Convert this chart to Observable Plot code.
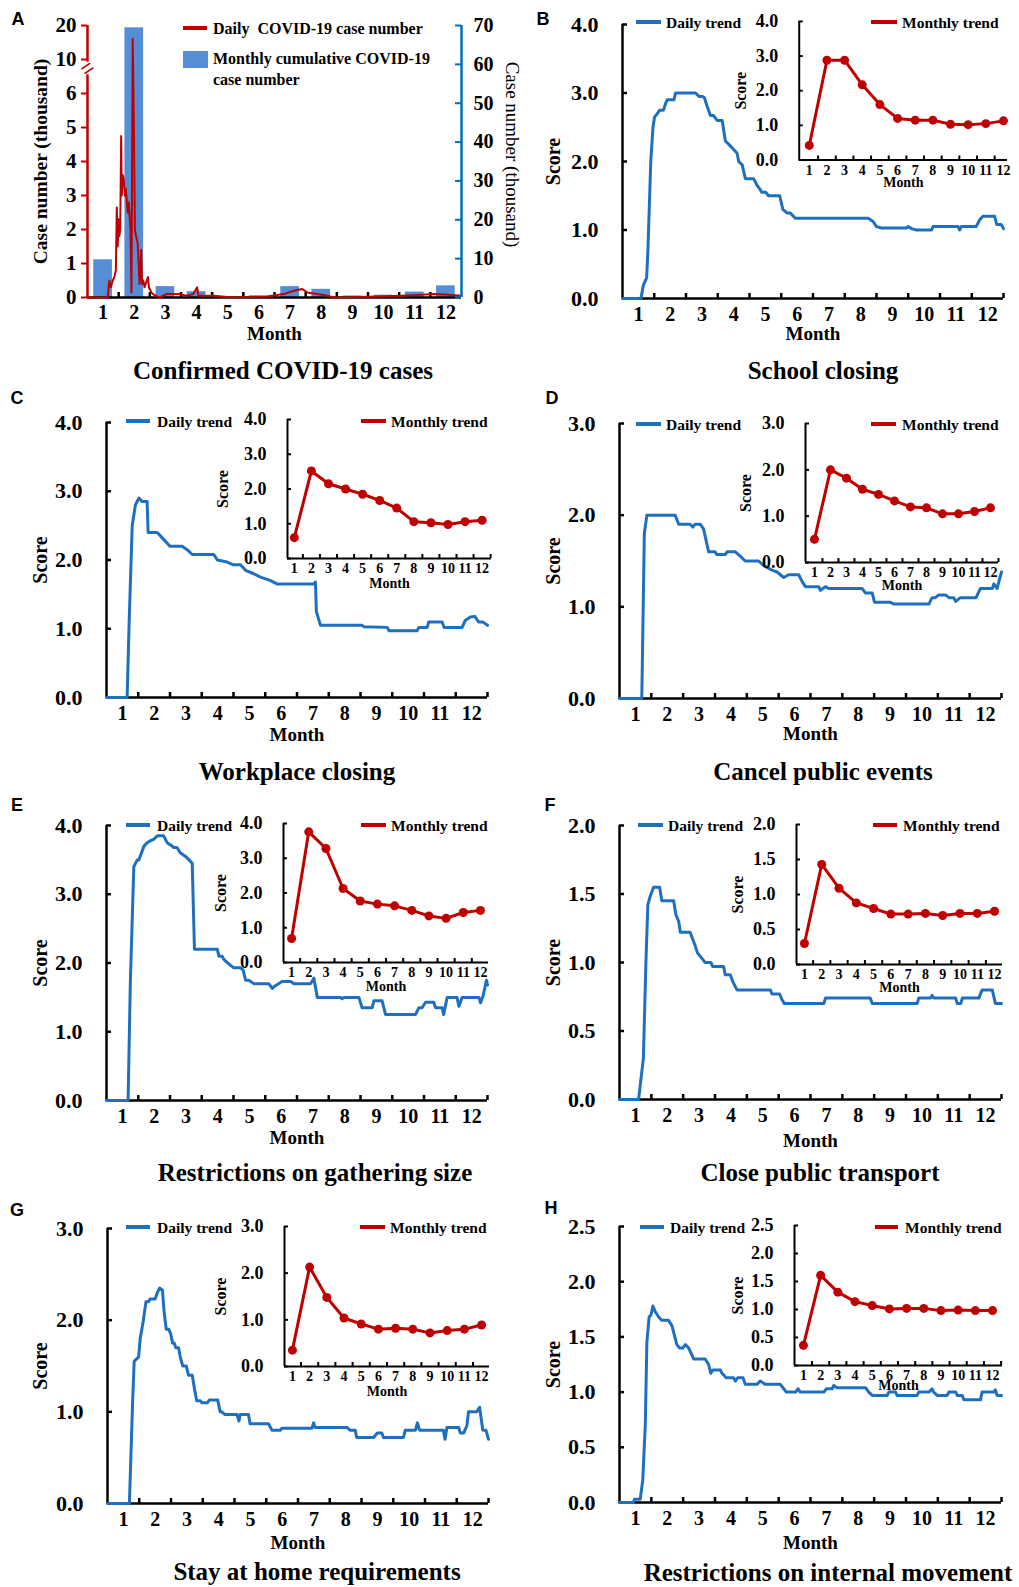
<!DOCTYPE html>
<html><head><meta charset="utf-8">
<script src="https://cdn.jsdelivr.net/npm/d3@7"></script>
<script src="https://cdn.jsdelivr.net/npm/@observablehq/plot@0.6"></script>
<style>
body{margin:0;background:#fff;}
#root{position:relative;width:1019px;height:1587px;overflow:hidden;background:#fff;}
</style></head><body><div id="root"></div>
<script>
// ---------- DATA ----------
const monthLabels = [1,2,3,4,5,6,7,8,9,10,11,12];

// Panel A: COVID-19 cases (thousand)
const caseMonthly = [9.7, 69.4, 2.8, 1.5, 0.1, 0.4, 2.8, 2.1, 0.4, 0.6, 1.4, 3.0];
const caseDaily = [[0,0],[0.65,0],[0.7,0.5],[0.75,0.3],[0.81,0.5],[0.86,0.6],[0.91,0.8],[0.94,2.65],[0.97,1.5],[1.0,2.3],[1.02,1.8],[1.05,2.0],[1.08,4.75],[1.1,3.0],[1.13,3.6],[1.16,3.5],[1.2,3.0],[1.23,3.2],[1.29,2.5],[1.32,2.8],[1.38,2.0],[1.41,0.15],[1.45,16],[1.49,5.0],[1.52,2.0],[1.56,1.8],[1.61,1.6],[1.67,0.4],[1.72,1.4],[1.75,0.4],[1.79,0.5],[1.83,0.3],[1.94,0.6],[1.97,0.3],[2.05,0.15],[2.1,0.1],[2.2,0.05],[2.31,0],[2.53,0.1],[2.96,0.1],[3.17,0.05],[3.39,0.1],[3.52,0.3],[3.56,0.05],[4.04,0.05],[4.68,0],[5.33,0.02],[5.76,0.03],[6.3,0.1],[6.62,0.2],[6.89,0.25],[7.05,0.15],[7.37,0.1],[7.7,0.05],[7.9,0],[9.0,0.02],[10.06,0.05],[10.7,0.08],[11.13,0.1],[11.56,0.08],[12,0.05]];
const caseLeftTicks = [0,1,2,3,4,5,6,10,20];
const caseRightTicks = [0,10,20,30,40,50,60,70];

// Panel B: School closing
const schoolDaily = [[0,0],[0.58,0],[0.66,0.2],[0.76,0.3],[0.8,0.7],[0.89,2.0],[0.96,2.5],[1.01,2.65],[1.1,2.7],[1.17,2.75],[1.29,2.75],[1.36,2.85],[1.41,2.9],[1.62,2.9],[1.67,3.0],[2.3,3.0],[2.41,2.95],[2.52,2.95],[2.58,2.93],[2.67,2.8],[2.77,2.67],[2.87,2.67],[2.98,2.6],[3.14,2.6],[3.24,2.3],[3.35,2.25],[3.45,2.2],[3.61,2.12],[3.66,2.0],[3.77,1.95],[3.87,1.75],[4.13,1.75],[4.24,1.65],[4.32,1.6],[4.39,1.55],[4.51,1.55],[4.6,1.5],[4.95,1.5],[5.05,1.3],[5.18,1.25],[5.28,1.25],[5.44,1.17],[7.74,1.17],[7.9,1.12],[8.0,1.05],[8.16,1.03],[8.94,1.03],[9.0,1.05],[9.1,1.02],[9.26,1.0],[9.73,1.0],[9.78,1.05],[10.57,1.05],[10.62,1.0],[10.67,1.05],[11.14,1.05],[11.25,1.15],[11.35,1.2],[11.72,1.2],[11.79,1.08],[11.93,1.08],[12,1.02]];
const schoolMonthly = [0.42, 2.88, 2.88, 2.17, 1.6, 1.2, 1.15, 1.15, 1.03, 1.02, 1.05, 1.13];

// Panel C: Workplace closing
const workplaceDaily = [[0,0],[0.65,0],[0.72,1.2],[0.81,2.5],[0.91,2.8],[1.02,2.9],[1.12,2.85],[1.28,2.85],[1.31,2.4],[1.6,2.4],[1.8,2.3],[2.0,2.2],[2.38,2.2],[2.54,2.15],[2.7,2.08],[3.38,2.08],[3.49,2.0],[3.8,1.97],[4.0,1.93],[4.22,1.93],[4.38,1.85],[4.64,1.8],[4.85,1.75],[5.17,1.7],[5.38,1.65],[6.53,1.65],[6.58,1.68],[6.61,1.25],[6.74,1.05],[8.05,1.05],[8.1,1.03],[8.84,1.02],[8.9,0.97],[9.78,0.97],[9.84,1.02],[10.1,1.02],[10.15,1.1],[10.57,1.1],[10.63,1.02],[11.2,1.02],[11.3,1.12],[11.46,1.17],[11.6,1.18],[11.72,1.1],[11.85,1.1],[12,1.05]];
const workplaceMonthly = [0.6, 2.52, 2.15, 2.0, 1.85, 1.67, 1.45, 1.06, 1.03, 0.98, 1.06, 1.1];

// Panel D: Cancel public events
const eventsDaily = [[0,0],[0.7,0],[0.78,1.8],[0.86,2.0],[1.75,2.0],[1.86,1.9],[2.22,1.9],[2.3,1.87],[2.37,1.9],[2.54,1.9],[2.64,1.85],[2.8,1.6],[3.0,1.6],[3.06,1.57],[3.32,1.57],[3.38,1.6],[3.64,1.6],[3.8,1.55],[3.95,1.5],[4.37,1.5],[4.53,1.45],[4.79,1.4],[4.95,1.38],[5.16,1.32],[5.31,1.35],[5.63,1.35],[5.73,1.28],[5.84,1.22],[6.26,1.22],[6.31,1.18],[6.47,1.22],[6.57,1.2],[7.62,1.2],[7.73,1.15],[7.94,1.15],[8.01,1.05],[8.51,1.05],[8.62,1.03],[9.72,1.03],[9.82,1.1],[9.92,1.1],[10.03,1.13],[10.24,1.13],[10.35,1.1],[10.5,1.1],[10.56,1.06],[10.71,1.1],[11.2,1.1],[11.34,1.2],[11.71,1.2],[11.76,1.25],[11.86,1.2],[12,1.38]];
const eventsMonthly = [0.5, 2.0, 1.82, 1.58, 1.47, 1.33, 1.2, 1.18, 1.05, 1.05, 1.1, 1.18];

// Panel E: Restrictions on gathering size
const gatheringDaily = [[0,0],[0.68,0],[0.75,1.7],[0.86,3.4],[0.97,3.5],[1.02,3.5],[1.18,3.7],[1.28,3.75],[1.39,3.78],[1.49,3.8],[1.6,3.85],[1.8,3.85],[1.91,3.75],[2.01,3.72],[2.12,3.68],[2.22,3.68],[2.33,3.6],[2.49,3.55],[2.6,3.5],[2.7,3.45],[2.77,2.2],[3.49,2.2],[3.54,2.1],[3.64,2.1],[3.7,2.05],[3.9,1.97],[4.01,1.93],[4.22,1.93],[4.3,1.9],[4.38,1.75],[4.48,1.75],[4.64,1.7],[5.11,1.7],[5.22,1.63],[5.32,1.67],[5.53,1.73],[5.8,1.73],[5.9,1.7],[6.43,1.7],[6.53,1.78],[6.64,1.5],[7.37,1.5],[7.42,1.48],[7.48,1.5],[7.95,1.5],[8.05,1.35],[8.37,1.35],[8.42,1.45],[8.68,1.45],[8.79,1.25],[9.73,1.25],[9.84,1.35],[9.94,1.35],[10.05,1.43],[10.31,1.43],[10.36,1.35],[10.57,1.35],[10.62,1.25],[10.73,1.5],[11.04,1.5],[11.1,1.37],[11.2,1.5],[11.73,1.5],[11.78,1.42],[11.86,1.52],[11.97,1.75],[12,1.68]];
const gatheringMonthly = [0.69, 3.76, 3.28, 2.13, 1.77, 1.68, 1.63, 1.5, 1.34, 1.27, 1.44, 1.5];

// Panel F: Close public transport
const transportDaily = [[0,0],[0.6,0],[0.75,0.3],[0.83,1.0],[0.89,1.42],[0.96,1.48],[1.07,1.55],[1.26,1.55],[1.33,1.45],[1.7,1.45],[1.77,1.35],[1.86,1.3],[1.91,1.22],[2.22,1.22],[2.3,1.17],[2.38,1.12],[2.45,1.07],[2.59,1.03],[2.69,1.0],[2.87,1.0],[2.93,0.97],[3.27,0.97],[3.32,0.91],[3.48,0.91],[3.56,0.86],[3.69,0.8],[4.74,0.8],[4.79,0.77],[5.03,0.77],[5.1,0.73],[5.18,0.7],[6.42,0.7],[6.47,0.74],[7.88,0.74],[7.94,0.7],[9.35,0.7],[9.4,0.74],[9.77,0.74],[9.82,0.76],[9.87,0.74],[10.56,0.74],[10.61,0.7],[10.72,0.7],[10.77,0.74],[11.29,0.74],[11.39,0.8],[11.71,0.8],[11.81,0.7],[12,0.7]];
const transportMonthly = [0.3, 1.43, 1.09, 0.88, 0.8, 0.72, 0.72, 0.73, 0.7, 0.73, 0.73, 0.76];

// Panel G: Stay at home requirements
const stayDaily = [[0,0],[0.69,0],[0.79,1.1],[0.84,1.55],[0.98,1.6],[1.03,1.8],[1.13,2.0],[1.21,2.2],[1.29,2.2],[1.34,2.23],[1.5,2.23],[1.57,2.3],[1.64,2.35],[1.73,2.33],[1.78,2.1],[1.85,1.9],[1.93,1.9],[1.99,1.85],[2.05,1.75],[2.1,1.75],[2.15,1.7],[2.24,1.7],[2.29,1.6],[2.37,1.5],[2.48,1.5],[2.55,1.4],[2.67,1.4],[2.74,1.25],[2.81,1.12],[2.92,1.12],[2.97,1.1],[3.15,1.1],[3.21,1.13],[3.47,1.13],[3.55,1.0],[3.6,1.0],[3.7,0.97],[4.08,0.97],[4.14,0.9],[4.18,0.97],[4.44,0.97],[4.49,0.87],[5.07,0.87],[5.18,0.8],[5.44,0.8],[5.49,0.82],[6.44,0.82],[6.49,0.88],[6.54,0.83],[7.54,0.83],[7.64,0.8],[7.8,0.8],[7.85,0.72],[8.38,0.72],[8.5,0.77],[8.64,0.77],[8.69,0.72],[9.32,0.72],[9.38,0.8],[9.7,0.8],[9.76,0.88],[9.83,0.8],[10.58,0.8],[10.63,0.7],[10.69,0.83],[11.06,0.83],[11.11,0.77],[11.22,0.77],[11.32,0.85],[11.37,1.0],[11.63,1.0],[11.72,1.05],[11.82,0.8],[11.92,0.8],[12,0.7]];
const stayMonthly = [0.35, 2.13, 1.48, 1.04, 0.91, 0.8, 0.82, 0.8, 0.72, 0.77, 0.8, 0.89];

// Panel H: Restrictions on internal movement
const movementDaily = [[0,0],[0.44,0],[0.47,0.03],[0.65,0.03],[0.73,0.2],[0.81,0.7],[0.86,1.45],[0.93,1.68],[0.99,1.7],[1.05,1.78],[1.12,1.73],[1.23,1.68],[1.33,1.65],[1.54,1.65],[1.65,1.6],[1.72,1.52],[1.8,1.43],[1.89,1.4],[1.99,1.4],[2.07,1.43],[2.17,1.4],[2.33,1.3],[2.69,1.3],[2.8,1.25],[2.87,1.17],[2.93,1.2],[3.17,1.2],[3.22,1.17],[3.35,1.13],[3.58,1.13],[3.64,1.1],[3.71,1.13],[3.88,1.13],[3.95,1.07],[4.32,1.07],[4.42,1.1],[4.58,1.07],[5.05,1.07],[5.16,1.03],[5.24,1.0],[5.53,1.0],[5.61,1.03],[5.68,1.0],[6.42,1.0],[6.5,1.03],[6.68,1.03],[6.73,1.06],[6.83,1.04],[7.73,1.04],[7.83,1.0],[7.94,0.97],[8.41,0.97],[8.46,1.0],[8.67,1.0],[8.72,0.97],[9.35,0.97],[9.4,1.0],[9.72,1.0],[9.82,1.03],[9.87,1.0],[9.98,0.97],[10.29,0.97],[10.35,1.0],[10.56,1.0],[10.61,0.97],[10.77,0.97],[10.82,0.93],[11.34,0.93],[11.39,1.0],[11.76,1.0],[11.81,1.02],[11.86,0.97],[12,0.97]];
const movementMonthly = [0.36, 1.61, 1.31, 1.14, 1.07, 1.01, 1.02, 1.02, 0.98, 0.99, 0.98, 0.98];

const panelTitles = ["Confirmed COVID-19 cases","School closing","Workplace closing","Cancel public events","Restrictions on gathering size","Close public transport","Stay at home requirements","Restrictions on internal movement"];
const panelLetters = ["A","B","C","D","E","F","G","H"];

// ---------- STYLE / LAYOUT ----------
const blue = "#1f6fbf", red = "#c00000", barBlue = "#558ed5";
const serif = '"Liberation Serif","Times New Roman",serif';
const sans = '"Liberation Sans",Arial,sans-serif';
const baseStyle = {fontFamily: serif, fontWeight: "bold", background: "transparent", overflow: "visible", color: "black"};
const root = document.getElementById("root");
function place(el, x, y) {
  const d = document.createElement("div");
  d.style.cssText = `position:absolute;left:${x}px;top:${y}px;`;
  d.appendChild(el);
  root.appendChild(d);
}
const fmt1 = d => d.toFixed(1);
const centred = {textAnchor: "middle", lineAnchor: "middle"};

// ---------- PANEL A ----------
(function() {
  const breakValue = 20 / 3;
  const toU = v => v <= breakValue ? v : 6 + v / 10;
  const uMax = toU(20), rightMax = 70;
  const fromU = u => u <= 6 ? String(u) : String(Math.round((u - 6) * 10));
  const gap = [6.55, 6.92];
  const x0 = 0, y0 = 0, w = 540, h = 350, L = 87, R = 461, T = 25, B = 297;
  const chart = Plot.plot({
    width: w, height: h,
    marginLeft: L - x0, marginRight: x0 + w - R, marginTop: T - y0, marginBottom: y0 + h - B,
    x: {domain: [0, 12]},
    y: {domain: [0, uMax]},
    style: baseStyle,
    marks: [
      Plot.rect(caseMonthly, {x1: (d, i) => i + 0.2, x2: (d, i) => i + 0.8, y1: 0, y2: d => d * uMax / rightMax, fill: barBlue}),
      Plot.ruleY([0], {strokeWidth: 2.5}),
      Plot.ruleX(monthLabels.slice(0, 11), {x: d => d, y1: 0, y2: 0, insetTop: -5, strokeWidth: 2.5}),
      Plot.line(caseDaily, {x: d => d[0], y: d => toU(d[1]), stroke: red, strokeWidth: 2, strokeLinejoin: "round"}),
      // left (red) broken axis
      Plot.ruleX([0], {y1: 0, y2: gap[0], stroke: red, strokeWidth: 2.5}),
      Plot.ruleX([0], {y1: gap[1], y2: uMax, stroke: red, strokeWidth: 2.5}),
      Plot.ruleY(caseLeftTicks.map(toU), {y: d => d, x1: 0, x2: 0, insetLeft: -6, stroke: red, strokeWidth: 2}),
      Plot.text(["="], {text: d => d, x: 0, y: (gap[0] + gap[1]) / 2, rotate: -35, fontSize: 22, fill: red, fontFamily: sans, fontWeight: "normal", ...centred}),
      // right (blue) axis
      Plot.ruleX([12], {stroke: "#0070c0", strokeWidth: 2.5}),
      Plot.ruleY(caseRightTicks.map(v => v * uMax / rightMax), {y: d => d, x1: 12, x2: 12, insetLeft: -6, stroke: "#0070c0", strokeWidth: 2}),
      Plot.axisY({ticks: caseLeftTicks.map(toU), tickFormat: fromU, tickSize: 0, tickPadding: 11, fontSize: 21, label: null}),
      Plot.axisY({anchor: "right", ticks: caseRightTicks.map(v => v * uMax / rightMax), tickFormat: u => String(Math.round(u * rightMax / uMax)), tickSize: 0, tickPadding: 12, fontSize: 20, label: null}),
      Plot.axisX({ticks: monthLabels.map(m => m - 0.5), tickFormat: d => String(d + 0.5), tickSize: 0, tickPadding: 7, fontSize: 20, label: null}),
      Plot.text(["Month"], {text: d => d, frameAnchor: "bottom", dy: 36, fontSize: 19, ...centred}),
      Plot.text(["Case number (thousand)"], {text: d => d, frameAnchor: "left", dx: -47, rotate: -90, fontSize: 19.5, ...centred}),
      Plot.text(["Case number (thousand)"], {text: d => d, frameAnchor: "right", dx: 51, dy: -7, rotate: 90, fontSize: 19, fontWeight: "normal", ...centred})
    ]
  });
  place(chart, x0, y0);
})();

// ---------- SCORE PANELS ----------
const panels = [
  {daily: schoolDaily, monthly: schoolMonthly, col: 500, L: 622, R: 1003, T: 24, B: 298, ymax: 4, yticks: [0,1,2,3,4], monthDy: 35, scoreDx: -69,
   iL: 799, iR: 1008, iT: 21, iB: 160, idom: [0.43, 12.23], iScoreDx: -59, iMonthDy: 23},
  {daily: workplaceDaily, monthly: workplaceMonthly, col: 0, L: 106, R: 487, T: 422, B: 697, ymax: 4, yticks: [0,1,2,3,4], monthDy: 37, scoreDx: -66,
   iL: 287, iR: 491, iT: 419, iB: 558, idom: [0.6, 12.55], iScoreDx: -65, iMonthDy: 25},
  {daily: eventsDaily, monthly: eventsMonthly, col: 500, L: 619, R: 1001, T: 423, B: 698, ymax: 3, yticks: [0,1,2,3], monthDy: 35, scoreDx: -66,
   iL: 805, iR: 998, iT: 423, iB: 562, idom: [0.44, 12.5], iScoreDx: -60, iMonthDy: 23},
  {daily: gatheringDaily, monthly: gatheringMonthly, col: 0, L: 106, R: 487, T: 825, B: 1100, ymax: 4, yticks: [0,1,2,3,4], monthDy: 37, scoreDx: -66,
   iL: 283, iR: 488, iT: 823, iB: 962, idom: [0.53, 12.47], iScoreDx: -63, iMonthDy: 24},
  {daily: transportDaily, monthly: transportMonthly, col: 500, L: 619, R: 1001, T: 825, B: 1099, ymax: 2, yticks: [0,0.5,1,1.5,2], monthDy: 41, scoreDx: -66,
   iL: 796, iR: 1002, iT: 824, iB: 964, idom: [0.54, 12.46], iScoreDx: -59, iMonthDy: 23},
  {daily: stayDaily, monthly: stayMonthly, col: 0, L: 107, R: 488, T: 1228, B: 1503, ymax: 3, yticks: [0,1,2,3], monthDy: 39, scoreDx: -67,
   iL: 284, iR: 489, iT: 1226, iB: 1366, idom: [0.54, 12.46], iScoreDx: -64, iMonthDy: 25},
  {daily: movementDaily, monthly: movementMonthly, col: 500, L: 619, R: 1001, T: 1226, B: 1502, ymax: 2.5, yticks: [0,0.5,1,1.5,2,2.5], monthDy: 40, scoreDx: -66,
   iL: 794, iR: 1002, iT: 1225, iB: 1365, idom: [0.48, 12.58], iScoreDx: -57, iMonthDy: 20}
];

function mainPanel(p) {
  const x0 = p.col, y0 = p.T - 30, w = p.col === 0 ? 500 : 519, h = p.B - y0 + 60;
  const chart = Plot.plot({
    width: w, height: h,
    marginLeft: p.L - x0, marginRight: x0 + w - p.R, marginTop: p.T - y0, marginBottom: y0 + h - p.B,
    x: {domain: [0, 12]},
    y: {domain: [0, p.ymax]},
    style: baseStyle,
    marks: [
      Plot.axisY({ticks: p.yticks, tickFormat: fmt1, tickSize: 0, tickPadding: 24, fontSize: 22, label: null}),
      Plot.axisX({ticks: monthLabels.map(m => m - 0.5), tickFormat: d => String(d + 0.5), tickSize: 0, tickPadding: 8, fontSize: 20, label: null}),
      Plot.ruleY(p.yticks, {y: d => d, x1: 0, x2: 0, insetRight: -5, strokeWidth: 2.5}),
      Plot.ruleX(monthLabels, {x: d => d, y1: 0, y2: 0, insetTop: -5, strokeWidth: 2.5}),
      Plot.ruleX([0], {strokeWidth: 2.5}),
      Plot.ruleY([0], {strokeWidth: 2.5}),
      Plot.line(p.daily, {x: d => d[0], y: d => d[1], stroke: blue, strokeWidth: 3, strokeLinejoin: "round"}),
      Plot.text(["Month"], {text: d => d, frameAnchor: "bottom", dy: p.monthDy, fontSize: 19, ...centred}),
      Plot.text(["Score"], {text: d => d, frameAnchor: "left", dx: p.scoreDx, rotate: -90, fontSize: 20, ...centred})
    ]
  });
  place(chart, x0, y0);
}

function insetPanel(p) {
  const x0 = p.iL - 85, y0 = p.iT - 15, w = p.iR - x0 + 12, h = p.iB - y0 + 40;
  const bTicks = monthLabels.map(m => m + 0.5).filter(v => v <= p.idom[1] + 0.01);
  const chart = Plot.plot({
    width: w, height: h,
    marginLeft: p.iL - x0, marginRight: x0 + w - p.iR, marginTop: p.iT - y0, marginBottom: y0 + h - p.iB,
    x: {domain: p.idom},
    y: {domain: [0, p.ymax]},
    style: baseStyle,
    marks: [
      Plot.axisY({ticks: p.yticks, tickFormat: fmt1, tickSize: 0, tickPadding: 21, fontSize: 18, label: null}),
      Plot.axisX({ticks: monthLabels, tickFormat: d => String(d), tickSize: 0, tickPadding: 5, fontSize: 14, label: null}),
      Plot.ruleY(p.yticks, {y: d => d, x1: p.idom[0], x2: p.idom[0], insetRight: -4, strokeWidth: 2}),
      Plot.ruleX(bTicks, {x: d => d, y1: 0, y2: 0, insetTop: -4, strokeWidth: 2}),
      Plot.ruleX([p.idom[0]], {strokeWidth: 2}),
      Plot.ruleY([0], {strokeWidth: 2}),
      Plot.line(p.monthly, {x: (d, i) => monthLabels[i], y: d => d, stroke: red, strokeWidth: 3, strokeLinejoin: "round"}),
      Plot.dot(p.monthly, {x: (d, i) => monthLabels[i], y: d => d, r: 4.5, fill: red, stroke: null}),
      Plot.text(["Month"], {text: d => d, frameAnchor: "bottom", dy: p.iMonthDy, fontSize: 14, ...centred}),
      Plot.text(["Score"], {text: d => d, frameAnchor: "left", dx: p.iScoreDx, rotate: -90, fontSize: 16, ...centred})
    ]
  });
  place(chart, x0, y0);
}

panels.forEach(p => { mainPanel(p); insetPanel(p); });

// ---------- OVERLAY TEXT (titles, letters, legends) ----------
const titlePos = [[283,370],[823,370],[297,771],[823,771],[315,1172],[820,1172],[317,1571],[828,1572]];
const letterPos = [[18,19],[543,19],[17,398],[552,398],[17,805],[550,805],[17,1210],[551,1208]];
const legendPos = [
  {d: [636,661,666], m: [871,897,902], y: 22},
  {d: [126,150,157], m: [361,386,391], y: 421},
  {d: [636,661,666], m: [871,896,902], y: 424},
  {d: [126,150,157], m: [361,386,391], y: 825},
  {d: [638,663,668], m: [873,897,903], y: 825},
  {d: [126,150,157], m: [360,385,390], y: 1227},
  {d: [640,664,670], m: [875,898,905], y: 1227}
];
const svg = d3.create("svg").attr("width", 1019).attr("height", 1587)
  .style("position", "absolute").style("left", "0px").style("top", "0px").style("overflow", "visible");
panelTitles.forEach((t, i) => {
  svg.append("text").attr("x", titlePos[i][0]).attr("y", titlePos[i][1])
    .attr("text-anchor", "middle").attr("dominant-baseline", "central")
    .attr("font-family", serif).attr("font-weight", "bold").attr("font-size", 25).text(t);
});
panelLetters.forEach((t, i) => {
  svg.append("text").attr("x", letterPos[i][0]).attr("y", letterPos[i][1])
    .attr("text-anchor", "middle").attr("dominant-baseline", "central")
    .attr("font-family", sans).attr("font-weight", "bold").attr("font-size", 18).text(t);
});
legendPos.forEach(l => {
  svg.append("line").attr("x1", l.d[0]).attr("x2", l.d[1]).attr("y1", l.y).attr("y2", l.y).attr("stroke", blue).attr("stroke-width", 4);
  svg.append("text").attr("x", l.d[2]).attr("y", l.y).attr("dominant-baseline", "central")
    .attr("font-family", serif).attr("font-weight", "bold").attr("font-size", 15.5).text("Daily trend");
  svg.append("line").attr("x1", l.m[0]).attr("x2", l.m[1]).attr("y1", l.y).attr("y2", l.y).attr("stroke", red).attr("stroke-width", 4);
  svg.append("text").attr("x", l.m[2]).attr("y", l.y).attr("dominant-baseline", "central")
    .attr("font-family", serif).attr("font-weight", "bold").attr("font-size", 15.5).text("Monthly trend");
});
// Panel A legend
svg.append("line").attr("x1", 183).attr("x2", 207).attr("y1", 28).attr("y2", 28).attr("stroke", red).attr("stroke-width", 4);
svg.append("text").attr("x", 213).attr("y", 28).attr("dominant-baseline", "central").style("white-space", "pre")
  .attr("font-family", serif).attr("font-weight", "bold").attr("font-size", 16).text("Daily  COVID-19 case number");
svg.append("rect").attr("x", 183).attr("y", 51).attr("width", 25).attr("height", 17).attr("fill", barBlue);
svg.append("text").attr("x", 213).attr("y", 58).attr("dominant-baseline", "central")
  .attr("font-family", serif).attr("font-weight", "bold").attr("font-size", 16).text("Monthly cumulative COVID-19");
svg.append("text").attr("x", 213).attr("y", 79).attr("dominant-baseline", "central")
  .attr("font-family", serif).attr("font-weight", "bold").attr("font-size", 16).text("case number");
root.appendChild(svg.node());
</script>
</body></html>
